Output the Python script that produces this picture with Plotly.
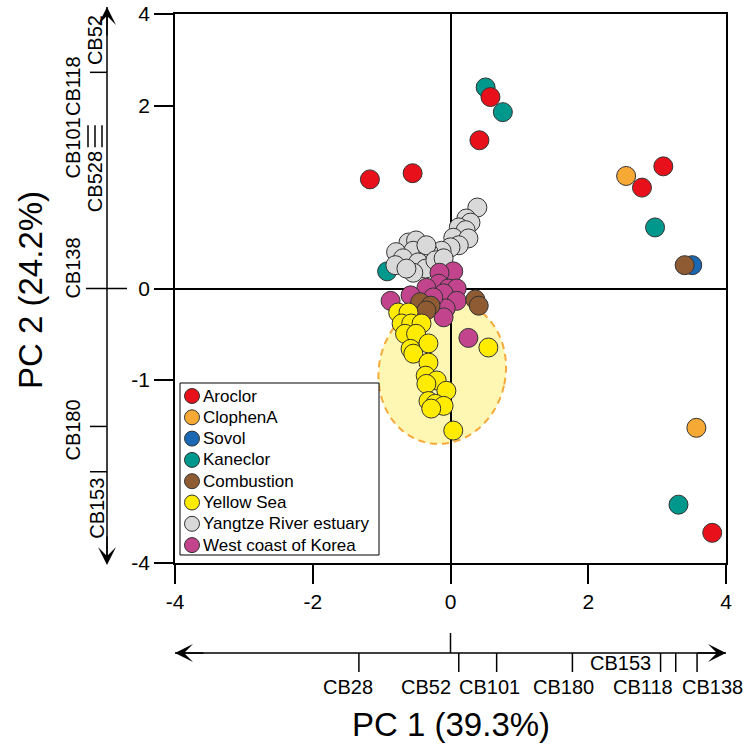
import math
import plotly.graph_objects as go

# ---------------- data (PC scores) ----------------
aroclor_x = [-1.17, -0.55, 0.58, 0.42, 3.09, 2.78, 3.80]
aroclor_y = [1.59, 1.68, 2.79, 2.16, 1.78, 1.47, -3.56]

clophen_x = [2.55, 3.57]
clophen_y = [1.64, -2.03]

sovol_x = [3.51]
sovol_y = [0.34]

kaneclor_x = [0.51, 0.76, 2.97, 3.31, -0.92]
kaneclor_y = [2.93, 2.57, 0.89, -3.15, 0.25]

combustion_x = [3.40, -0.44, -0.29, -0.35, 0.36, 0.41]
combustion_y = [0.34, -0.20, -0.25, -0.32, -0.16, -0.25]

yellow_x = [-0.76, -0.61, -0.71, -0.57, -0.42, -0.66, -0.50, -0.32, -0.58, -0.54, -0.32,
            -0.36, -0.20, -0.35, -0.06, -0.32, -0.22, -0.10, -0.28, 0.04, 0.55]
yellow_y = [-0.35, -0.35, -0.51, -0.51, -0.51, -0.66, -0.66, -0.80, -0.88, -0.95, -1.08,
            -1.27, -1.34, -1.39, -1.49, -1.64, -1.68, -1.71, -1.75, -2.07, -0.86]

yangtze_x = [0.39, 0.23, 0.29, 0.12, 0.22, 0.04, 0.26, 0.12, 0.00, -0.13, -0.61, -0.50,
             -0.54, -0.32, -0.35, -0.79, -0.69, -0.80, -0.47, -0.36, -0.22, -0.54, -0.10, -0.64]
yangtze_y = [1.18, 1.02, 0.96, 0.89, 0.85, 0.74, 0.73, 0.63, 0.60, 0.55, 0.67, 0.70,
             0.55, 0.53, 0.63, 0.53, 0.44, 0.34, 0.38, 0.29, 0.41, 0.23, 0.44, 0.29]

korea_x = [0.04, -0.16, -0.17, -0.03, 0.09, -0.35, -0.10, -0.58, -0.87, 0.09, -0.07, -0.10, 0.26, -0.25]
korea_y = [0.25, 0.23, 0.07, 0.00, 0.00, 0.01, -0.07, -0.10, -0.18, -0.18, -0.29, -0.42, -0.72, -0.13]

# confidence ellipse of the Yellow Sea group
ellipse_center = (-0.12, -1.21)
ellipse_radii = (0.92, 1.06)
ellipse_tilt_deg = -12

# loadings (biplot axes)
pc1_loading_names = ["CB28", "CB52", "CB101", "CB180", "CB153", "CB118", "CB138"]
pc1_loadings = [-1.33, 0.12, 0.67, 1.77, 3.05, 3.27, 3.58]
pc2_loading_names = ["CB52", "CB118", "CB101", "CB528", "CB138", "CB180", "CB153"]
pc2_loadings = [3.15, 2.22, 2.22, 2.22, 0.00, -2.01, -2.67]

# axes ticks
x_tick_vals = [-4, -2, 0, 2, 4]
x_tick_text = ["-4", "-2", "0", "2", "4"]
y_tick_vals = [4, 8 / 3, 0, -4 / 3, -4]
y_tick_text = ["4", "2", "0", "-1", "-4"]
axis_range = [-4, 4]
pc1_arrow_range = [-4, 4]
pc2_arrow_range = [-4, 4]

groups = ["Aroclor", "ClophenA", "Sovol", "Kaneclor", "Combustion",
          "Yellow Sea", "Yangtze River estuary", "West coast of Korea"]
colors = {
    "Aroclor": "#E8111B",
    "ClophenA": "#F6A935",
    "Sovol": "#1A67B3",
    "Kaneclor": "#00988D",
    "Combustion": "#8F5B32",
    "Yellow Sea": "#FFEC00",
    "Yangtze River estuary": "#D9D9D9",
    "West coast of Korea": "#C1448D",
}
series = {
    "Aroclor": (aroclor_x, aroclor_y),
    "ClophenA": (clophen_x, clophen_y),
    "Sovol": (sovol_x, sovol_y),
    "Kaneclor": (kaneclor_x, kaneclor_y),
    "Combustion": (combustion_x, combustion_y),
    "Yellow Sea": (yellow_x, yellow_y),
    "Yangtze River estuary": (yangtze_x, yangtze_y),
    "West coast of Korea": (korea_x, korea_y),
}
draw_order = ["Kaneclor", "Sovol", "Yangtze River estuary", "West coast of Korea",
              "Combustion", "Yellow Sea", "Aroclor", "ClophenA"]

FONT = "Liberation Sans, Arial, sans-serif"
W, H = 754, 750
ML, MR, MT, MB = 175, 28, 14, 187
PW, PH = W - ML - MR, H - MT - MB


def px_x(p):  # screen pixel -> paper x
    return (p - ML) / PW


def px_y(p):  # screen pixel -> paper y
    return (MT + PH - p) / PH


def data_to_paper_y(v):
    return (v - axis_range[0]) / (axis_range[1] - axis_range[0])


fig = go.Figure()

for g in draw_order:
    xs, ys = series[g]
    fig.add_trace(go.Scatter(
        x=xs, y=ys, mode="markers", name=g, showlegend=False,
        marker=dict(size=19, color=colors[g], line=dict(color="#333333", width=1)),
    ))

# ---------------- ellipse ----------------
cx, cy = ellipse_center
rx, ry = ellipse_radii
th = math.radians(ellipse_tilt_deg)
pts = []
for i in range(121):
    t = 2 * math.pi * i / 120
    ex = cx + rx * math.cos(t) * math.cos(th) - ry * math.sin(t) * math.sin(th)
    ey = cy + rx * math.cos(t) * math.sin(th) + ry * math.sin(t) * math.cos(th)
    pts.append(f"{ex:.4f},{ey:.4f}")
path = "M" + " L".join(pts) + " Z"
fig.add_shape(type="path", path=path, xref="x", yref="y", layer="below",
              fillcolor="#FDF7B3", line=dict(color="#F4A93A", width=2, dash="7px,5px"))

shapes = []
annotations = []

# ---------------- bottom loading axis (PC1) ----------------
yb = px_y(653)
shapes.append(dict(type="line", xref="x", yref="paper", x0=pc1_arrow_range[0], x1=pc1_arrow_range[1],
                   y0=yb, y1=yb, line=dict(color="black", width=1.5)))
shapes.append(dict(type="line", xref="x", yref="paper", x0=0, x1=0,
                   y0=yb, y1=yb + 20 / PH, line=dict(color="black", width=1.5)))
for v in pc1_loadings:
    shapes.append(dict(type="line", xref="x", yref="paper", x0=v, x1=v,
                       y0=yb, y1=yb - 19 / PH, line=dict(color="black", width=1.5)))
for end, off in ((pc1_arrow_range[1], -30), (pc1_arrow_range[0], 30)):
    annotations.append(dict(x=end, y=yb, xref="x", yref="paper", ax=off, ay=0,
                            axref="pixel", ayref="pixel", text="", showarrow=True,
                            arrowhead=3, arrowsize=2, arrowwidth=1.5, arrowcolor="black"))
pc1_label_x = [-1.49, -0.35, 0.57, 1.64, 2.47, 2.80, 3.80]
pc1_label_y = [687, 687, 687, 687, 663, 687, 687]
for name, lx, ly in zip(pc1_loading_names, pc1_label_x, pc1_label_y):
    annotations.append(dict(x=lx, y=px_y(ly), xref="x", yref="paper", text=name,
                            showarrow=False, font=dict(family=FONT, size=20, color="black"),
                            xanchor="center", yanchor="middle", borderpad=0))

# ---------------- left loading axis (PC2) ----------------
xl = px_x(107)
shapes.append(dict(type="line", xref="paper", yref="paper", x0=xl, x1=xl,
                   y0=data_to_paper_y(pc2_arrow_range[0]), y1=px_y(7),
                   line=dict(color="black", width=1.5)))
for yend, off in ((px_y(7), 30), (px_y(565), -30)):
    annotations.append(dict(x=xl, y=yend, xref="paper", yref="paper", ax=0, ay=off,
                            axref="pixel", ayref="pixel", text="", showarrow=True,
                            arrowhead=3, arrowsize=2, arrowwidth=1.5, arrowcolor="black"))
tick_style = ["h", "v", "v", "v", "x", "h", "h"]
bar_offsets = [19, 12, 5]
bi = 0
for v, st in zip(pc2_loadings, tick_style):
    if st == "h":
        shapes.append(dict(type="line", xref="paper", yref="y", x0=xl - 17 / PW, x1=xl,
                           y0=v, y1=v, line=dict(color="black", width=1.5)))
    elif st == "x":
        shapes.append(dict(type="line", xref="paper", yref="y", x0=xl - 21 / PW, x1=xl + 20 / PW,
                           y0=v, y1=v, line=dict(color="black", width=1.5)))
    else:
        xb = xl - bar_offsets[bi] / PW
        bi += 1
        shapes.append(dict(type="line", xref="paper", yref="y", x0=xb, x1=xb,
                           y0=v - 0.16, y1=v + 0.16, line=dict(color="black", width=1.5)))
pc2_label_x = [95, 73, 73, 95, 73, 73, 97]
pc2_label_y = [3.62, 2.95, 2.04, 1.55, 0.29, -2.07, -3.21]
for name, lx, ly in zip(pc2_loading_names, pc2_label_x, pc2_label_y):
    annotations.append(dict(x=px_x(lx), y=ly, xref="paper", yref="y", text=name,
                            showarrow=False, textangle=-90,
                            font=dict(family=FONT, size=20, color="black"),
                            xanchor="center", yanchor="middle", borderpad=0))

# ---------------- axis titles ----------------
annotations.append(dict(x=0.5, y=px_y(724), xref="paper", yref="paper", text="PC 1 (39.3%)",
                        showarrow=False, font=dict(family=FONT, size=33, color="black"),
                        xanchor="center", yanchor="middle"))
annotations.append(dict(x=px_x(30), y=px_y(290), xref="paper", yref="paper", text="PC 2 (24.2%)",
                        showarrow=False, textangle=-90,
                        font=dict(family=FONT, size=33, color="black"),
                        xanchor="center", yanchor="middle"))

# ---------------- legend (drawn on its own small axes) ----------------
leg_left, leg_right, leg_top, leg_bottom = 180, 379, 383, 555
row_h = 21.3
for i, g in enumerate(groups):
    fig.add_trace(go.Scatter(
        x=[12], y=[13 + row_h * i], xaxis="x2", yaxis="y2", mode="markers",
        showlegend=False, hoverinfo="skip", name=g,
        marker=dict(size=15, color=colors[g], line=dict(color="#333333", width=1)),
    ))
    annotations.append(dict(x=21, y=13 + row_h * i, xref="x2", yref="y2", text=g,
                            showarrow=False, xanchor="left", yanchor="middle",
                            font=dict(family=FONT, size=17, color="black")))
shapes.append(dict(type="rect", xref="x2 domain", yref="y2 domain", x0=0, x1=1, y0=0, y1=1,
                   line=dict(color="black", width=1)))

fig.update_layout(
    width=W, height=H,
    margin=dict(l=ML, r=MR, t=MT, b=MB, autoexpand=False),
    paper_bgcolor="white", plot_bgcolor="white",
    font=dict(family=FONT, size=21, color="black"),
    showlegend=False,
    xaxis=dict(range=axis_range, tickvals=x_tick_vals, ticktext=x_tick_text,
               ticks="outside", ticklen=19, tickwidth=1.5, tickcolor="black",
               showline=True, mirror=True, linecolor="black", linewidth=1.5,
               zeroline=True, zerolinecolor="black", zerolinewidth=1.5, showgrid=False,
               automargin=False, ticklabeloverflow="allow", tickfont=dict(family=FONT, size=21)),
    yaxis=dict(range=axis_range, tickvals=y_tick_vals, ticktext=y_tick_text,
               ticks="outside", ticklen=19, tickwidth=1.5, tickcolor="black",
               showline=True, mirror=True, linecolor="black", linewidth=1.5,
               zeroline=True, zerolinecolor="black", zerolinewidth=1.5, showgrid=False,
               automargin=False, ticklabeloverflow="allow",
               tickfont=dict(family=FONT, size=21)),
    xaxis2=dict(domain=[px_x(leg_left), px_x(leg_right)], range=[0, leg_right - leg_left],
                anchor="y2", visible=False, fixedrange=True),
    yaxis2=dict(domain=[px_y(leg_bottom), px_y(leg_top)], range=[leg_bottom - leg_top, 0],
                anchor="x2", visible=False, fixedrange=True),
    shapes=fig.layout.shapes + tuple(shapes),
    annotations=annotations,
)

fig.write_html("out.html",
               config={"displayModeBar": False},
               post_script="document.body.style.margin='0';document.body.style.overflow='hidden';")
